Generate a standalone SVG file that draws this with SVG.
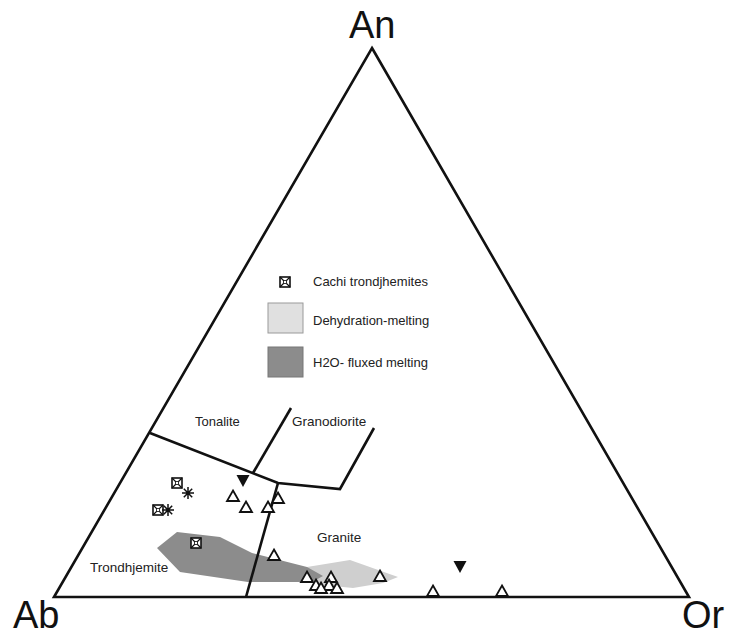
<svg xmlns="http://www.w3.org/2000/svg" xmlns:xlink="http://www.w3.org/1999/xlink" width="729" height="636" viewBox="0 0 729 636">
<style>
.lbl{font-family:"Liberation Sans",Arial,sans-serif;fill:#222}
.big{font-family:"Liberation Sans",Arial,sans-serif;font-size:38px;fill:#111}
.ln{fill:none;stroke:#111;stroke-width:2.6;stroke-linejoin:miter}
.tri{fill:#fff;stroke:#111;stroke-width:1.8;stroke-linejoin:miter}
.itri{fill:#111}
.ast{stroke:#111;stroke-width:1.5}
</style>
<defs>
<path id="tri" class="tri" d="M0,-5.5 L6,5 L-6,5 Z"/>
<path id="itri" class="itri" d="M-6.5,-6 L6.5,-6 L0,6 Z"/>
<g id="cachi">
<rect x="-5" y="-5" width="10" height="10" fill="#fff" stroke="#111" stroke-width="1.6"/>
<path d="M-5,-5 L5,5 M5,-5 L-5,5" stroke="#111" stroke-width="1.2"/>
<rect x="-1.5" y="-1.5" width="3" height="3" fill="#fff" stroke="#111" stroke-width="0.8"/>
</g>
<g id="ast" class="ast">
<path d="M-6,0 L6,0 M0,-6 L0,6 M-4.2,-4.2 L4.2,4.2 M4.2,-4.2 L-4.2,4.2"/>
</g>
</defs>
<rect width="729" height="636" fill="#fff"/>

<g id="fields">
<polygon id="dehydration" points="307,567 350,560 398,577 383,583 353,588 323,585 307,578" fill="#cfcfcf"/>
<polygon id="h2o-fluxed" points="157,548 177,532 220,537 252,553 307,567 323,576 312,582 248,582 180,572" fill="#8c8c8c"/>
</g>

<g id="connectors">
<polygon class="ln" points="372,48 689,597 54,597"/>
<polyline class="ln" points="150,433 278,483 340,489 374,428"/>
<line class="ln" x1="291" y1="408" x2="253" y2="473"/>
<line class="ln" x1="278" y1="483" x2="246" y2="597"/>
</g>

<g id="labels">
<text class="big" x="349" y="38">An</text>
<text class="big" x="13" y="628">Ab</text>
<text class="big" x="682" y="628">Or</text>
<text class="lbl" x="195" y="426" font-size="13">Tonalite</text>
<text class="lbl" x="292" y="426" font-size="13.5">Granodiorite</text>
<text class="lbl" x="317" y="542" font-size="13.5">Granite</text>
<text class="lbl" x="90" y="572" font-size="13.5">Trondhjemite</text>
</g>

<g id="legend">
<use xlink:href="#cachi" x="285" y="282"/>
<text class="lbl" x="313" y="286" font-size="13">Cachi trondjhemites</text>
<rect x="268" y="303" width="35" height="30" fill="#e0e0e0" stroke="#9a9a9a" stroke-width="1"/>
<text class="lbl" x="313" y="325" font-size="13">Dehydration-melting</text>
<rect x="268" y="347" width="35" height="30" fill="#8c8c8c" stroke="#777" stroke-width="1"/>
<text class="lbl" x="313" y="367" font-size="13">H2O- fluxed melting</text>
</g>

<g id="data">
<use xlink:href="#cachi" x="177" y="483"/>
<use xlink:href="#cachi" x="158" y="510"/>
<use xlink:href="#cachi" x="196" y="543"/>
<use xlink:href="#ast" x="188" y="493"/>
<use xlink:href="#ast" x="168" y="510"/>
<use xlink:href="#itri" x="243" y="481"/>
<use xlink:href="#itri" x="460" y="567"/>
<use xlink:href="#tri" x="233" y="496"/>
<use xlink:href="#tri" x="246" y="507"/>
<use xlink:href="#tri" x="268" y="507"/>
<use xlink:href="#tri" x="278" y="498"/>
<use xlink:href="#tri" x="274" y="555"/>
<use xlink:href="#tri" x="307" y="577"/>
<use xlink:href="#tri" x="331" y="577"/>
<use xlink:href="#tri" x="316" y="585"/>
<use xlink:href="#tri" x="329" y="585"/>
<use xlink:href="#tri" x="321" y="588"/>
<use xlink:href="#tri" x="337" y="588"/>
<use xlink:href="#tri" x="380" y="576"/>
<use xlink:href="#tri" x="433" y="591"/>
<use xlink:href="#tri" x="502" y="591"/>
</g>
</svg>
